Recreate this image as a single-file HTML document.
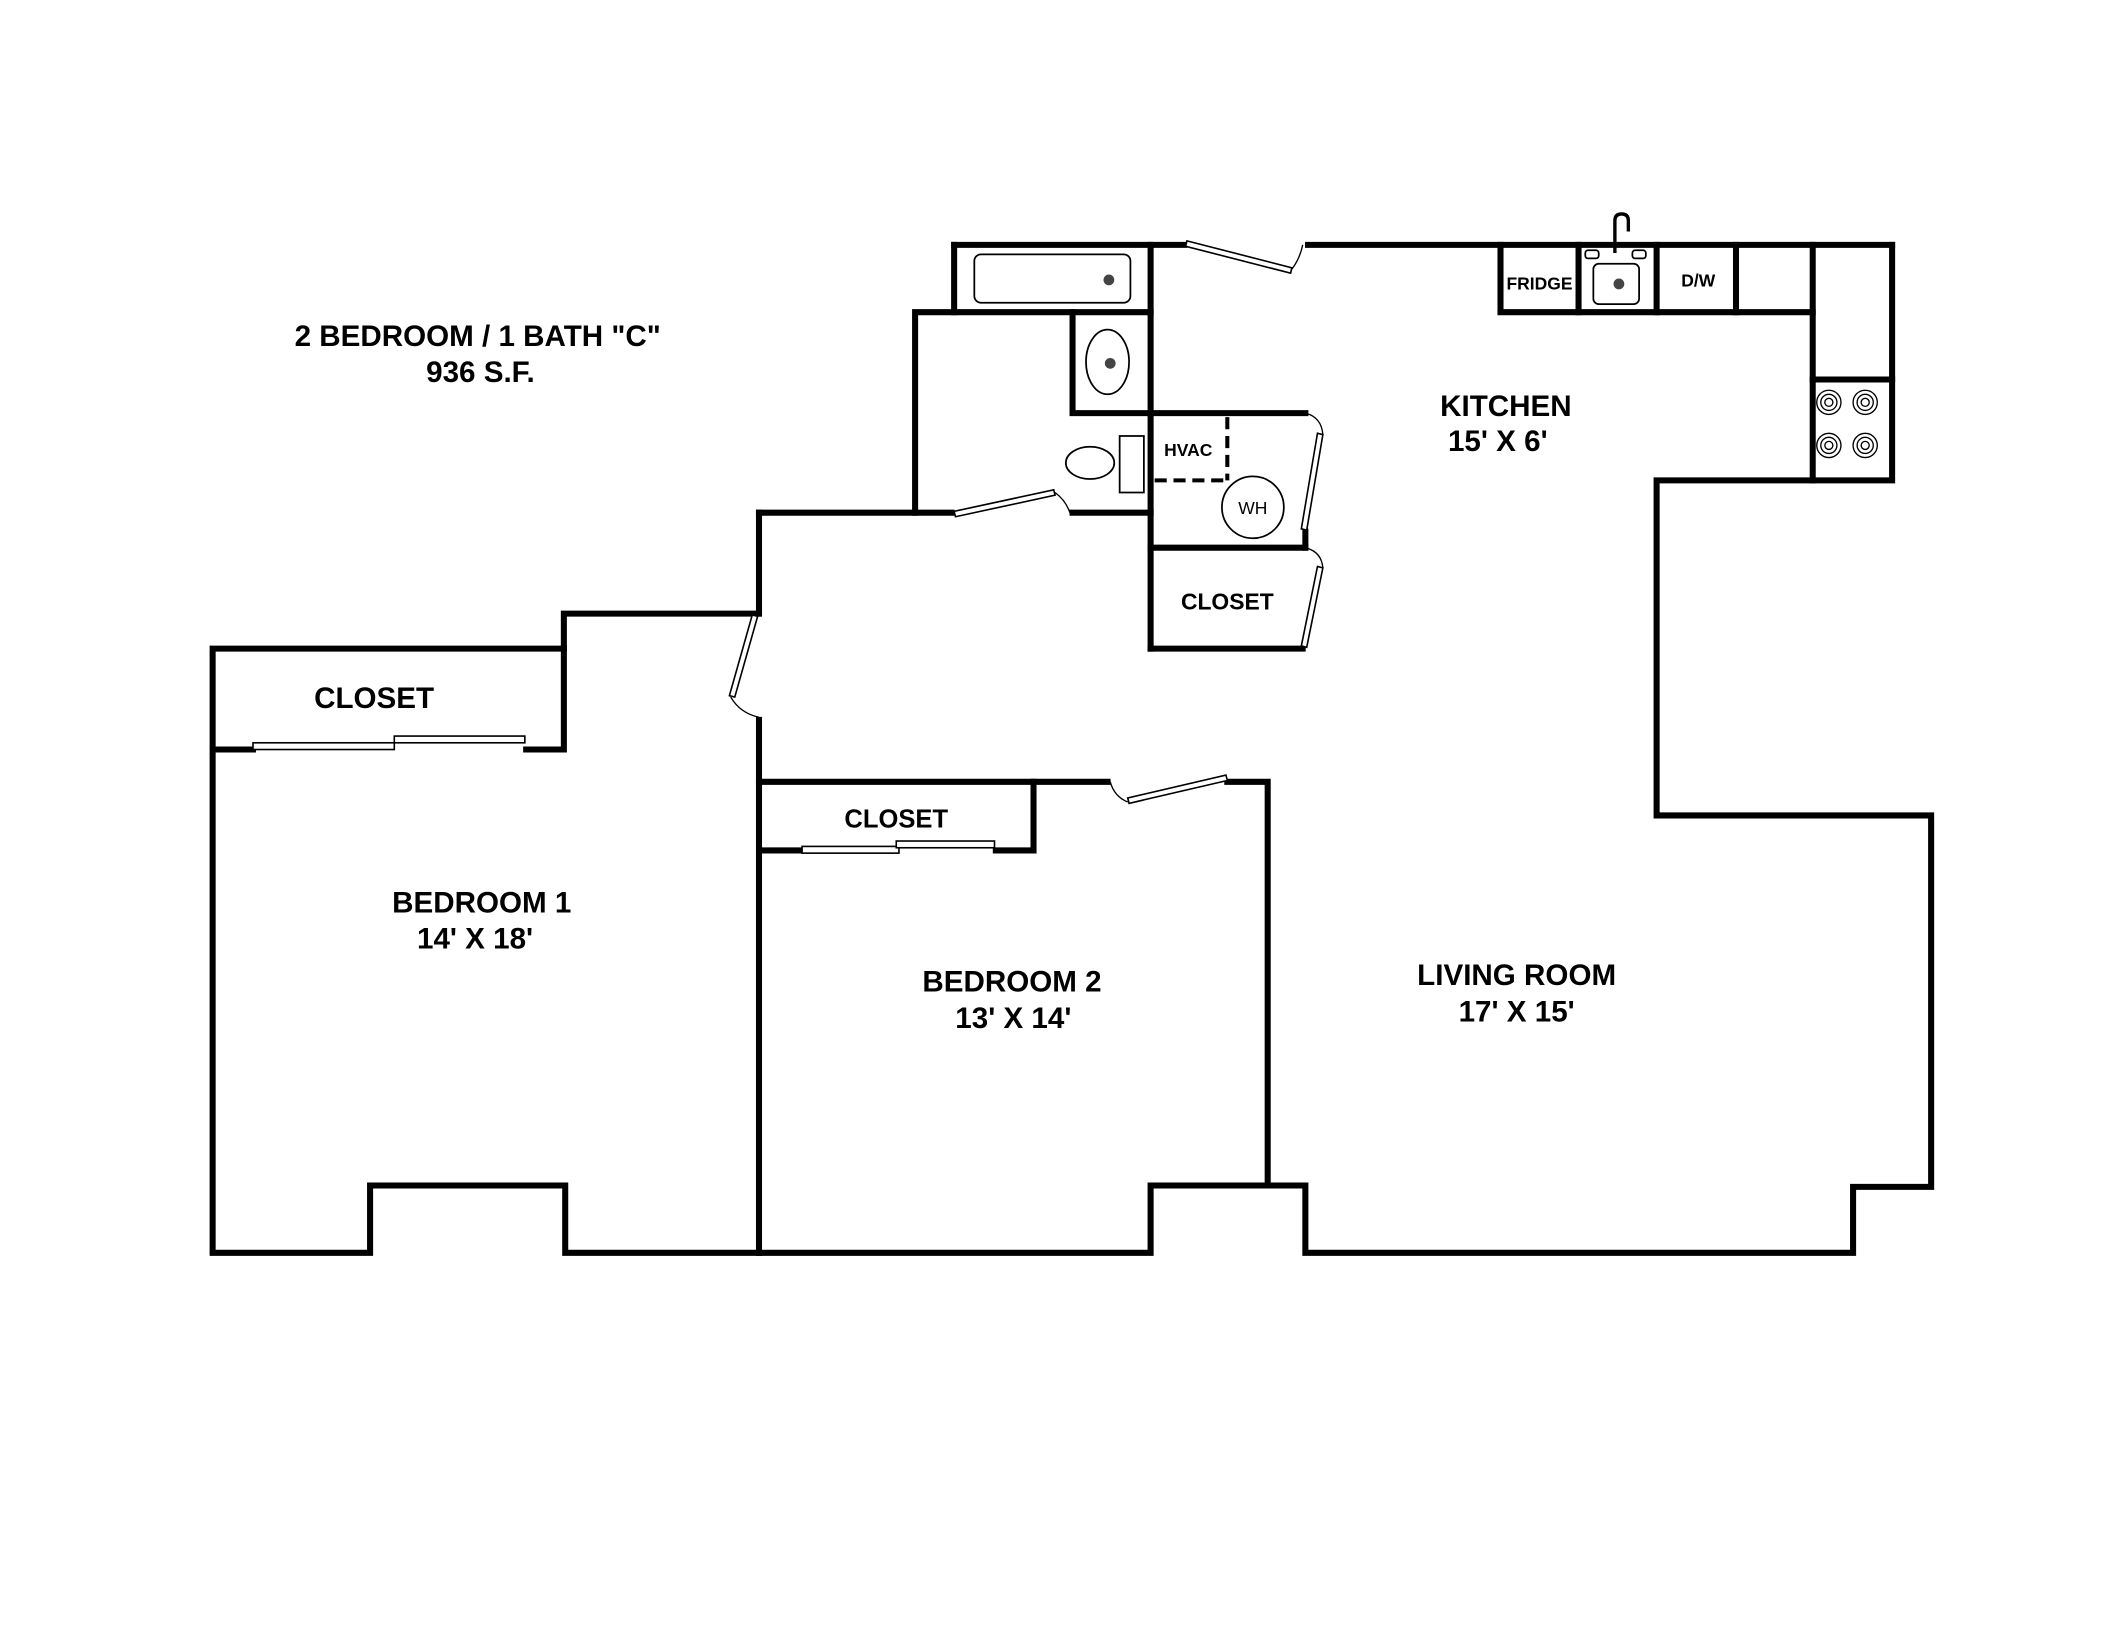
<!DOCTYPE html>
<html><head><meta charset="utf-8"><style>
html,body{margin:0;padding:0;background:#fff;}
svg{display:block;}
text{font-family:"Liberation Sans",sans-serif;font-weight:bold;fill:#000;}
</style></head><body>
<svg width="2112" height="1632" viewBox="0 0 1569.4 1212.8" preserveAspectRatio="none" xmlns="http://www.w3.org/2000/svg">
<rect width="1570" height="1213" fill="#fff"/>
<g stroke="#000" stroke-width="4.5" fill="none" stroke-linecap="square">
<line x1="709" y1="182" x2="880" y2="182"/>
<line x1="972" y1="182" x2="1406" y2="182"/>
<polyline points="1406,182 1406,357 1231,357 1231,606 1435,606 1435,882 1377,882 1377,931 970,931 970,881 855,881 855,931 564,931"/>
<polyline points="564,931 420,931 420,881 275,881 275,931 158,931 158,482 419,482 419,557 391,557"/>
<line x1="160" y1="557" x2="188" y2="557"/>
<polyline points="419,482 419,456 564,456"/>
<line x1="564" y1="381" x2="564" y2="456"/>
<line x1="564" y1="535" x2="564" y2="931"/>
<line x1="564" y1="381" x2="707" y2="381"/>
<line x1="797" y1="381" x2="855" y2="381"/>
<polyline points="680,381 680,232 855,232"/>
<polyline points="709,232 709,182"/>
<line x1="855" y1="182" x2="855" y2="482"/>
<polyline points="797,232 797,307 855,307"/>
<line x1="855" y1="307" x2="970" y2="307"/>
<line x1="970" y1="395" x2="970" y2="407"/>
<line x1="855" y1="407" x2="970" y2="407"/>
<line x1="855" y1="482" x2="968" y2="482"/>
<polyline points="1115,182 1115,232 1347,232"/>
<line x1="1173" y1="182" x2="1173" y2="232"/>
<line x1="1231" y1="182" x2="1231" y2="232"/>
<line x1="1290" y1="182" x2="1290" y2="232"/>
<line x1="1347" y1="182" x2="1347" y2="357"/>
<line x1="1347" y1="282" x2="1406" y2="282"/>
<line x1="564" y1="581" x2="823" y2="581"/>
<polyline points="912,581 942,581 942,881"/>
<polyline points="768,581 768,632 740,632"/>
<line x1="566" y1="632" x2="594" y2="632"/>
</g>
<g stroke="#000" stroke-width="3" stroke-dasharray="9,5" fill="none">
<line x1="912" y1="310" x2="912" y2="357"/>
<line x1="858" y1="357" x2="912" y2="357"/>
</g>
<g stroke="#000" stroke-width="1.2" fill="#fff">
<rect x="188" y="552" width="105" height="5"/>
<rect x="293" y="547" width="97" height="5"/>
<rect x="596" y="629" width="72" height="5"/>
<rect x="666" y="625" width="73" height="5"/>
</g>
<g stroke="#000" stroke-width="1.2" fill="#fff">
<polygon points="882,179 960,199 959,203 881,183"/>
<polygon points="709,380 783,364 784,368 710,384"/>
<polygon points="983,323 971,394 967,393 979,322"/>
<polygon points="983,422 971,481 967,480 979,421"/>
<polygon points="563,458 546,518 542,517 559,457"/>
<polygon points="912,580 839,597 838,593 911,576"/>
</g>
<g stroke="#000" stroke-width="1" fill="none">
<path d="M960,200 Q966,192 968,182"/>
<path d="M784,366 Q792,372 795,381"/>
<path d="M970,307 Q982,310 983,323"/>
<path d="M970,407 Q982,410 983,422"/>
<path d="M543,518 Q550,530 564,533"/>
<path d="M825,581 Q828,592 838,596"/>
</g>
<g stroke="#000" stroke-width="1.3" fill="#fff">
<rect x="724" y="189" width="116" height="36" rx="5"/>
<ellipse cx="823" cy="269" rx="16" ry="24"/>
<ellipse cx="810" cy="344" rx="18" ry="12"/>
<rect x="832" y="324" width="18" height="42"/>
<circle cx="931" cy="377" r="23"/>
<rect x="1184" y="196" width="34" height="30" rx="4"/>
<rect x="1178" y="186" width="10" height="6" rx="2"/>
<rect x="1213" y="186" width="10" height="6" rx="2"/>
<path d="M1200,188 L1200,164 Q1200,159 1205,159 Q1210,159 1210,164 L1210,172" stroke-width="2.5" fill="none"/>
</g>
<g fill="#444">
<circle cx="824" cy="208" r="4"/>
<circle cx="825" cy="270" r="4"/>
<circle cx="1203" cy="211" r="4"/>
</g>
<g stroke="#000" stroke-width="1" fill="none">
<circle cx="1359" cy="299" r="9"/><circle cx="1359" cy="299" r="6"/><circle cx="1359" cy="299" r="3"/>
<circle cx="1386" cy="299" r="9"/><circle cx="1386" cy="299" r="6"/><circle cx="1386" cy="299" r="3"/>
<circle cx="1359" cy="331" r="9"/><circle cx="1359" cy="331" r="6"/><circle cx="1359" cy="331" r="3"/>
<circle cx="1386" cy="331" r="9"/><circle cx="1386" cy="331" r="6"/><circle cx="1386" cy="331" r="3"/>
</g>
<text x="355" y="257" font-size="22" text-anchor="middle">2 BEDROOM / 1 BATH "C"</text>
<text x="357" y="284" font-size="22" text-anchor="middle">936 S.F.</text>
<text x="1119" y="309" font-size="22" text-anchor="middle">KITCHEN</text>
<text x="1113" y="335" font-size="22" text-anchor="middle">15' X 6'</text>
<text x="1144" y="215" font-size="13" text-anchor="middle">FRIDGE</text>
<text x="1262" y="213" font-size="13" text-anchor="middle">D/W</text>
<text x="883" y="339" font-size="13" text-anchor="middle">HVAC</text>
<text x="931" y="382" font-size="13" text-anchor="middle" style="font-weight:normal">WH</text>
<text x="912" y="453" font-size="17" text-anchor="middle">CLOSET</text>
<text x="278" y="526" font-size="22" text-anchor="middle">CLOSET</text>
<text x="666" y="615" font-size="19" text-anchor="middle">CLOSET</text>
<text x="358" y="678" font-size="22" text-anchor="middle">BEDROOM 1</text>
<text x="353" y="705" font-size="22" text-anchor="middle">14' X 18'</text>
<text x="752" y="737" font-size="22" text-anchor="middle">BEDROOM 2</text>
<text x="753" y="764" font-size="22" text-anchor="middle">13' X 14'</text>
<text x="1127" y="732" font-size="22" text-anchor="middle">LIVING ROOM</text>
<text x="1127" y="759" font-size="22" text-anchor="middle">17' X 15'</text>
</svg>
</body></html>
